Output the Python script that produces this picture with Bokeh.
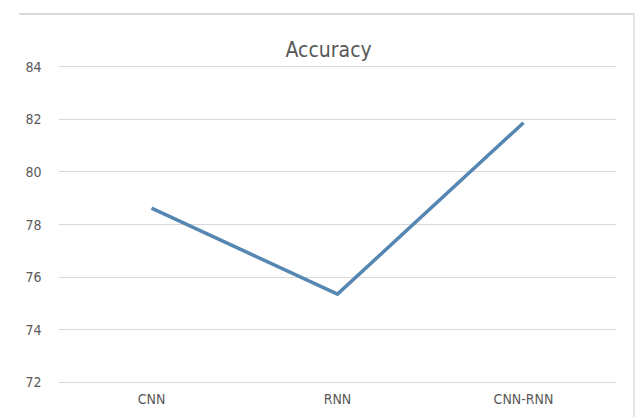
from bokeh.plotting import figure
from bokeh.models import FixedTicker
from bokeh.embed import file_html
from bokeh.resources import INLINE

categories = ["CNN", "RNN", "CNN-RNN"]
accuracy = [78.62, 75.35, 81.87]
y_ticks = [72, 74, 76, 78, 80, 82, 84]
title_text = "Accuracy"

FONT = "'Liberation Sans Narrow', 'DejaVu Sans Condensed', sans-serif"

# page offsets so that the sheet border lines sit where the reference has them
OFF_L, OFF_T = 19, 13

p = figure(width=616, height=404, x_range=categories, y_range=(71.95, 84.05),
           output_backend="svg", toolbar_location=None,
           min_border_left=58 - OFF_L, min_border_right=19,
           min_border_top=50, min_border_bottom=36,
           title=title_text)
p.margin = (OFF_T, 0, 0, OFF_L)
p.styles = {"border-top": "2px solid #d9d9d9", "border-right": "2px solid #e6e6e6"}

p.line(categories, accuracy, line_color="#5687b2", line_width=3.5, line_join="miter")

p.title.align = "left"
p.title.text_font = FONT
p.title.text_font_size = "21px"
p.title.text_font_style = "normal"
p.title.text_color = "#595959"
p.title.offset = 227
p.title.standoff = 8

p.outline_line_color = None
p.background_fill_color = "white"
p.border_fill_color = "white"
p.xgrid.grid_line_color = None
p.ygrid.grid_line_color = "#d9d9d9"
p.ygrid.grid_line_width = 1
p.yaxis.ticker = FixedTicker(ticks=y_ticks)

for ax in (p.xaxis, p.yaxis):
    ax.axis_line_color = None
    ax.major_tick_line_color = None
    ax.minor_tick_line_color = None
    ax.major_label_text_font = FONT
    ax.major_label_text_font_size = "14px"
    ax.major_label_text_color = "#595959"
p.yaxis.major_label_standoff = 11
p.xaxis.major_label_standoff = 1

open("out.html", "w").write(file_html(p, INLINE))
